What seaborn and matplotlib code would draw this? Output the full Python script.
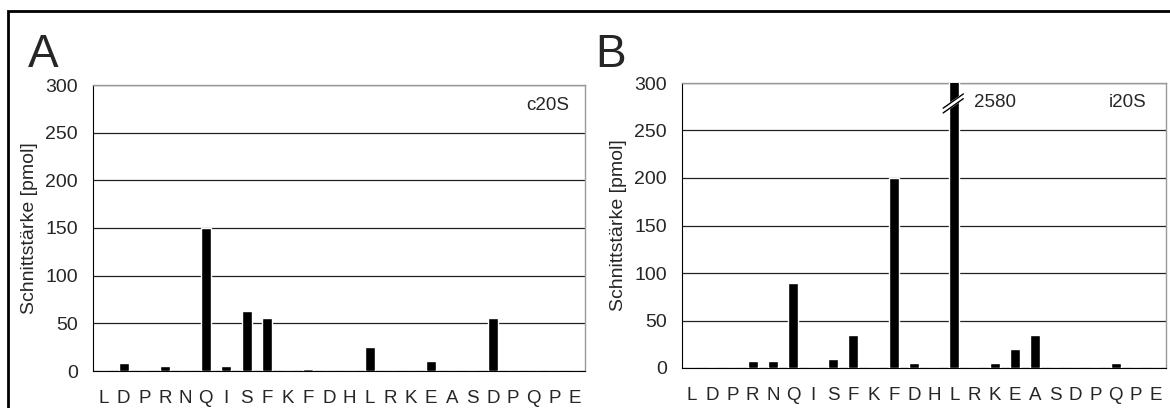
import numpy as np
import pandas as pd
import seaborn as sns
import matplotlib.pyplot as plt
from matplotlib.patches import Rectangle

# cleavage sites along the peptide
residues = ['L', 'D', 'P', 'R', 'N', 'Q', 'I', 'S', 'F', 'K', 'F', 'D',
            'H', 'L', 'R', 'K', 'E', 'A', 'S', 'D', 'P', 'Q', 'P', 'E']
c20s = [0, 8, 0, 5, 0, 150, 5, 63, 56, 0, 2, 0,
        0, 25, 0, 0, 11, 0, 0, 56, 0, 0, 0, 0]
i20s = [0, 0, 0, 7, 7, 90, 0, 10, 35, 0, 200, 5,
        0, 2580, 0, 5, 20, 35, 0, 0, 0, 5, 0, 0]
yticks = [0, 50, 100, 150, 200, 250, 300]


def draw_panel(ax, values, tag, tag_x):
    df = pd.DataFrame({'pos': np.arange(len(residues)), 'val': values})
    sns.barplot(data=df, x='pos', y='val', color='black', width=0.5,
                saturation=1, ax=ax, zorder=3)
    ax.set_ylim(0, 300)
    ax.set_xlim(-0.5, len(residues) - 0.5)
    ax.set_yticks(yticks)
    ax.yaxis.grid(True, color='#222222', lw=0.9)
    ax.set_axisbelow(True)

    # ticks on category boundaries, labels in between
    ax.set_xticks(np.arange(len(residues) + 1) - 0.5)
    ax.set_xticklabels([])
    ax.set_xticks(np.arange(len(residues)), minor=True)
    ax.set_xticklabels(residues, minor=True)
    ax.tick_params(axis='x', which='major', length=6, width=1, color='black')
    ax.tick_params(axis='x', which='minor', length=0, pad=14, labelsize=13.5)
    ax.tick_params(axis='y', length=6, width=1, labelsize=14, pad=5)

    for s in ['top', 'right']:
        ax.spines[s].set_color('#999999')
        ax.spines[s].set_linewidth(1)
    ax.spines['left'].set_color('black')
    ax.spines['bottom'].set_color('black')

    ax.set_xlabel('')
    ax.set_ylabel('Schnittstärke [pmol]', fontsize=14)
    ax.text(tag_x, 0.93, tag, transform=ax.transAxes, ha='right', va='center',
            fontsize=13.5)


sns.set_style('white')
plt.rcParams['font.family'] = ['Liberation Sans', 'DejaVu Sans']

fig = plt.figure(figsize=(11.7, 4.08), dpi=100)
ax_a = fig.add_axes([93 / 1170, 37 / 408, 492 / 1170, 286 / 408])
ax_b = fig.add_axes([682 / 1170, 40 / 408, 484 / 1170, 285 / 408])

draw_panel(ax_a, c20s, 'c20S', 0.967)
draw_panel(ax_b, i20s, 'i20S', 0.959)
ax_a.yaxis.set_label_coords(-0.112, 0.5)
ax_b.yaxis.set_label_coords(-0.114, 0.5)

# axis break on the clipped bar
k = i20s.index(max(i20s))
xs = np.array([k - 0.55, k + 0.45])
ys = np.array([270, 285])
ax_b.plot(xs, ys + 1, color='white', lw=4, zorder=5, solid_capstyle='butt')
ax_b.plot(xs, ys - 1.5, color='black', lw=1, zorder=6)
ax_b.plot(xs, ys + 3.5, color='black', lw=1, zorder=6)
ax_b.text(k + 1.0, 279, str(max(i20s)), ha='left', va='center', fontsize=13.5)

fig.text(28 / 1170, 1 - 67 / 408, 'A', fontsize=33, va='baseline')
fig.text(595 / 1170, 1 - 67 / 408, 'B', fontsize=33, va='baseline')

fig.patches.append(Rectangle((8 / 1170, -0.1), 1.0, 1 - 11 / 408 + 0.1,
                             transform=fig.transFigure, fill=False,
                             edgecolor='black', lw=2))

fig.savefig('out.png', dpi=100)
